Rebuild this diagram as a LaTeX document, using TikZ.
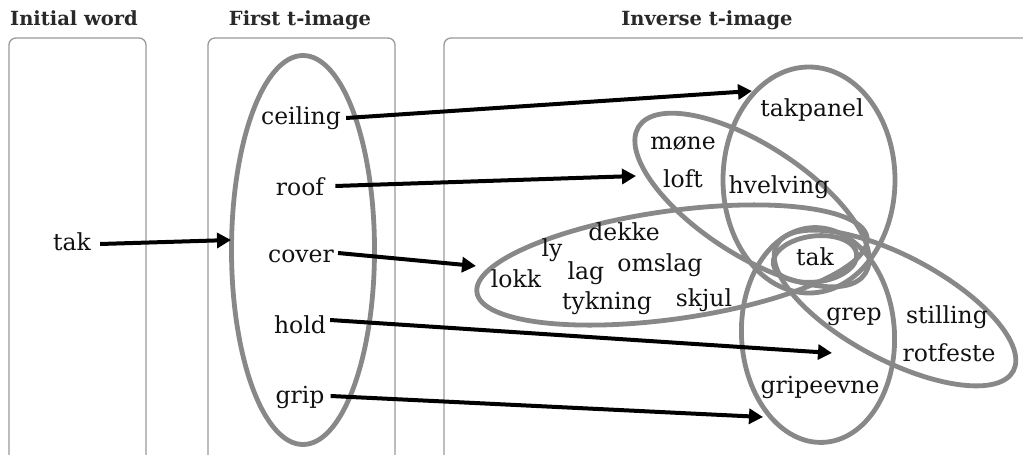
\documentclass[tikz,border=0pt]{standalone}
\usepackage{fontspec}
\setmainfont{DejaVu Serif}
\usetikzlibrary{arrows.meta,shapes.geometric}
\definecolor{boxgray}{HTML}{9A9A9A}
\definecolor{ellgray}{HTML}{888888}
\definecolor{ink}{HTML}{111111}
\tikzset{
  panel/.style={draw=boxgray, line width=1.3pt, rounded corners=7pt},
  head/.style={font=\fontsize{19.5}{24}\selectfont\bfseries, text=ink!90, anchor=base, inner sep=0pt},
  word/.style={font=\fontsize{23.5}{28}\selectfont, text=ink, inner sep=0pt},
  ell/.style={ellipse, draw=ellgray, line width=4.8pt, inner sep=0pt},
  arr/.style={draw=black, line width=4pt, -{Triangle[length=14pt,width=15pt]}}
}
\begin{document}
\begin{tikzpicture}[x=1pt,y=-1pt]
\useasboundingbox (0,0) rectangle (1023,455);
% panels
\draw[panel] (9,38) rectangle (146,462);
\draw[panel] (208,38) rectangle (395,462);
\draw[panel] (444,38) rectangle (1040,462);
% headings
\node[head] (h1) at (74,25) {Initial word};
\node[head] (h2) at (300,25) {First t-image};
\node[head] (h3) at (707,25) {Inverse t-image};
% first t-image ellipse
\node[ell, minimum width=143pt, minimum height=389pt] (E1) at (303,250) {};
% inverse ellipses
\node[ell, minimum width=172pt, minimum height=226pt] (EA) at (809,180) {};
\node[ell, minimum width=270pt, minimum height=110pt, rotate=-33] (EB) at (752,200) {};
\node[ell, minimum width=394pt, minimum height=108pt, rotate=8] (EC) at (672,265) {};
\node[ell, minimum width=84pt, minimum height=46pt, rotate=7] (ED) at (815,259) {};
\node[ell, minimum width=153pt, minimum height=215pt, rotate=3] (EE) at (818,335) {};
\node[ell, minimum width=268pt, minimum height=104pt, rotate=-28] (EF) at (895,308) {};
% words
\node[word] (tak0) at (72,242) {tak};
\node[word] (ceiling) at (301,118) {ceiling};
\node[word] (roof) at (300,187) {roof};
\node[word] (cover) at (301,256) {cover};
\node[word] (hold) at (300,325) {hold};
\node[word] (grip) at (300,397) {grip};
\node[word] (takpanel) at (812,110) {takpanel};
\node[word] (mone) at (683,143) {møne};
\node[word] (loft) at (683,179) {loft};
\node[word] (hvelving) at (779,187) {hvelving};
\node[word] (dekke) at (624,232) {dekke};
\node[word] (ly) at (552,250) {ly};
\node[word] (lokk) at (516,279) {lokk};
\node[word] (lag) at (586,273) {lag};
\node[word] (omslag) at (660,265) {omslag};
\node[word] (tykning) at (607,303) {tykning};
\node[word] (skjul) at (704,300) {skjul};
\node[word] (tak1) at (815,257) {tak};
\node[word] (grep) at (854,317) {grep};
\node[word] (stilling) at (947,317) {stilling};
\node[word] (rotfeste) at (949,353) {rotfeste};
\node[word] (gripeevne) at (820,387) {gripeevne};
% arrow end points
\coordinate (t0) at (231,240);
\coordinate (t1) at (752,91);
\coordinate (t2) at (636,176);
\coordinate (t3) at (476,266);
\coordinate (t4) at (832,353);
\coordinate (t5) at (763,417);
% arrows
\draw[arr] ([xshift=9pt,yshift=-2pt]tak0.east) -- (t0);
\draw[arr] ([xshift=5pt]ceiling.east) -- (t1);
\draw[arr] ([xshift=11pt,yshift=1pt]roof.east) -- (t2);
\draw[arr] ([xshift=4pt,yshift=3pt]cover.east) -- (t3);
\draw[arr] ([xshift=4pt,yshift=5pt]hold.east) -- (t4);
\draw[arr] ([xshift=6pt,yshift=1pt]grip.east) -- (t5);
\end{tikzpicture}
\end{document}
